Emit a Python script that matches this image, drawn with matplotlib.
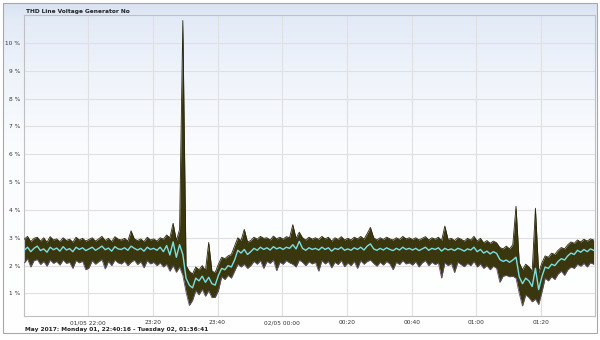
import matplotlib
matplotlib.use("Agg")
import matplotlib.pyplot as plt
import numpy as np
import pandas as pd
from matplotlib.colors import LinearSegmentedColormap
from matplotlib.patches import Rectangle

start = "2017-05-01 22:40:16"
end = "2017-05-02 01:36:41"

# THD samples, one per minute (percent)
avg = [2.55, 2.66, 2.50, 2.62, 2.70, 2.54, 2.60, 2.48, 2.66, 2.57,
       2.63, 2.52, 2.68, 2.56, 2.61, 2.50, 2.66, 2.58, 2.64, 2.54,
       2.60, 2.66, 2.55, 2.62, 2.70, 2.57, 2.63, 2.52, 2.68, 2.60,
       2.58, 2.64, 2.55, 2.70, 2.62, 2.56, 2.62, 2.52, 2.66, 2.58,
       2.62, 2.55, 2.66, 2.50, 2.72, 2.38, 2.85, 2.30, 2.75, 2.40,
       1.55, 1.30, 1.20, 1.55, 1.45, 1.62, 1.40, 1.58, 1.35, 1.30,
       1.65, 1.90, 1.85, 2.00, 1.95, 2.20, 2.55, 2.45, 2.58, 2.40,
       2.50, 2.62, 2.55, 2.66, 2.58, 2.64, 2.56, 2.68, 2.60, 2.65,
       2.58, 2.66, 2.62, 2.75, 2.60, 2.87, 2.62, 2.55, 2.64, 2.58,
       2.62, 2.56, 2.66, 2.58, 2.64, 2.52, 2.62, 2.58, 2.66, 2.55,
       2.60, 2.55, 2.64, 2.58, 2.66, 2.56, 2.70, 2.78, 2.60, 2.55,
       2.62, 2.56, 2.64, 2.58, 2.54, 2.62, 2.56, 2.66, 2.58, 2.62,
       2.56, 2.62, 2.54, 2.60, 2.66, 2.55, 2.62, 2.58, 2.64, 2.52,
       2.62, 2.56, 2.60, 2.54, 2.62, 2.58, 2.52, 2.60, 2.56, 2.66,
       2.50, 2.58, 2.45, 2.52, 2.42, 2.50, 2.44, 2.22, 2.15, 2.20,
       2.12, 2.20, 2.30, 1.60, 1.35, 1.55, 1.45, 1.25, 1.90, 1.14,
       1.60, 1.95, 1.90, 2.05, 2.00, 2.15, 2.25, 2.20, 2.35, 2.45,
       2.40, 2.55, 2.48, 2.58, 2.50, 2.60, 2.55]

high = [2.95, 3.05, 2.86, 2.98, 3.02, 2.88, 3.00, 2.84, 3.04, 2.92,
        2.96, 2.86, 3.00, 2.90, 2.95, 2.84, 3.02, 2.92, 2.98, 2.88,
        2.94, 3.00, 2.88, 2.96, 3.05, 2.90, 2.98, 2.86, 3.04, 2.95,
        2.92, 2.98, 2.88, 3.25, 2.96, 2.90, 2.96, 2.86, 3.02, 2.92,
        2.96, 2.88, 3.00, 2.95, 3.10, 3.00, 3.52, 2.90, 3.30, 10.80,
        2.00, 1.80, 1.70, 1.95, 1.85, 2.00, 1.82, 2.83, 1.80, 1.75,
        2.05, 2.30, 2.25, 2.35, 2.40, 2.70, 3.00, 2.90, 3.30, 2.85,
        2.90, 3.02, 2.95, 3.05, 2.98, 3.00, 2.92, 3.06, 2.96, 3.02,
        2.95, 3.04, 3.00, 3.47, 2.98, 3.20, 3.00, 2.92, 3.02, 2.95,
        3.00, 2.94, 3.05, 2.96, 3.02, 2.88, 3.00, 2.94, 3.04, 2.92,
        2.98, 2.92, 3.02, 2.96, 3.05, 2.95, 3.15, 3.37, 3.00, 2.92,
        3.00, 2.94, 3.02, 2.96, 2.92, 3.00, 2.94, 3.05, 2.96, 3.00,
        2.94, 3.00, 2.92, 2.98, 3.04, 2.92, 3.00, 2.95, 3.02, 2.90,
        3.42, 2.94, 2.98, 2.90, 3.00, 2.95, 2.88, 2.98, 2.92, 3.05,
        2.88, 2.98, 2.82, 2.90, 2.80, 2.88, 2.82, 2.65, 2.60, 2.70,
        2.60, 2.75, 4.13, 2.10, 1.85, 2.05, 1.95, 1.80, 4.06, 1.75,
        2.10, 2.35, 2.30, 2.45, 2.40, 2.55, 2.65, 2.60, 2.75, 2.85,
        2.80, 2.92, 2.85, 2.95, 2.88, 2.96, 2.92]

low = [2.10, 2.24, 1.95, 2.18, 2.22, 2.04, 2.15, 1.98, 2.20, 2.08,
       2.15, 2.02, 2.20, 2.08, 2.12, 1.90, 2.18, 2.10, 2.16, 1.85,
       1.92, 2.18, 2.05, 2.14, 2.22, 1.88, 2.15, 2.00, 2.20, 2.10,
       2.06, 2.16, 2.00, 2.12, 2.20, 2.04, 2.14, 1.92, 2.18, 2.06,
       2.12, 2.00, 2.10, 1.95, 2.05, 1.80, 2.00, 1.76, 1.95, 1.65,
       1.05, 0.57, 0.75, 1.10, 0.95, 1.15, 0.90, 1.10, 0.85, 0.86,
       1.10, 1.60, 1.50, 1.65, 1.55, 1.80, 2.05, 1.95, 2.05, 1.90,
       2.00, 2.15, 2.05, 2.18, 1.90, 2.15, 2.08, 2.20, 1.82, 2.12,
       2.05, 2.18, 2.10, 2.05, 1.95, 2.20, 2.12, 2.00, 2.14, 2.06,
       2.12, 1.80, 2.18, 2.06, 2.15, 1.92, 2.12, 2.04, 2.18, 1.96,
       2.10, 2.00, 2.15, 1.90, 2.18, 2.05, 2.15, 2.20, 2.08, 1.98,
       2.12, 2.02, 2.15, 2.06, 1.85, 2.12, 2.04, 2.18, 2.06, 2.10,
       2.02, 2.14, 1.95, 2.10, 2.18, 2.00, 2.12, 2.04, 2.10, 1.55,
       2.10, 2.00, 2.08, 1.75, 2.12, 2.04, 1.96, 2.08, 2.00, 2.15,
       1.95, 2.06, 1.90, 2.00, 1.85, 1.98, 1.90, 1.40, 1.62, 1.65,
       1.60, 1.62, 1.55, 1.00, 0.55, 0.95, 0.85, 0.70, 0.80, 0.60,
       1.05, 1.55, 1.45, 1.60, 1.50, 1.70, 1.80, 1.65, 1.85, 1.95,
       1.90, 2.05, 1.98, 2.08, 1.95, 2.10, 2.05]

tick_times = ["2017-05-01 23:00", "2017-05-01 23:20", "2017-05-01 23:40",
              "2017-05-02 00:00", "2017-05-02 00:20", "2017-05-02 00:40",
              "2017-05-02 01:00", "2017-05-02 01:20"]
tick_labels = ["01/05 22:00", "23:20", "23:40", "02/05 00:00",
               "00:20", "00:40", "01:00", "01:20"]
y_ticks = [1, 2, 3, 4, 5, 6, 7, 8, 9, 10]

title = "THD Line Voltage Generator No"
footer = "May 2017: Monday 01, 22:40:16 - Tuesday 02, 01:36:41"

times = pd.date_range(start, periods=len(avg), freq="1min")

fig = plt.figure(figsize=(6, 3.4), dpi=100)

# panel background, light blue at the top fading to white
bg = fig.add_axes([0, 0, 1, 1], zorder=-10)
bg.set_xlim(0, 1)
bg.set_ylim(0, 1)
bg.axis("off")
grad = np.linspace(0, 1, 256).reshape(-1, 1)
cmap = LinearSegmentedColormap.from_list(
    "bg", [(0.0, "#d9e3f3"), (0.05, "#e4ebf7"), (0.2, "#eef3fa"),
           (0.45, "#fbfcfe"), (1.0, "#ffffff")])
bg.imshow(grad, aspect="auto", cmap=cmap, extent=[3/600, 597/600, 7/340, 337/340])
bg.add_patch(Rectangle((3/600, 7/340), 594/600, 330/340, fill=False,
                       edgecolor="#a8a8a8", lw=0.8))

ax = fig.add_axes([24.3/600, 1 - 316/340, (595 - 24.3)/600, (316 - 15)/340])
ax.patch.set_alpha(0)

ax.fill_between(times, low, high, color="#3a370f", lw=0, zorder=2)
ax.plot(times, high, color="#28260f", lw=0.6, zorder=3)
ax.plot(times, low, color="#5e5070", lw=0.6, zorder=3)
ax.plot(times, avg, color="#7adfe0", lw=1.0, zorder=4)

ax.set_xlim(pd.Timestamp(start), pd.Timestamp(end))
ax.set_ylim(0.19, 11.0)
ax.set_xticks(pd.to_datetime(tick_times))
ax.set_xticklabels(tick_labels)
ax.set_yticks(y_ticks)
ax.set_yticklabels(["%d %%" % v for v in y_ticks])
ax.tick_params(length=0, labelsize=4.2, colors="#333333", pad=3)
ax.grid(color="#e0e0e0", lw=0.8, zorder=0)
for s in ax.spines.values():
    s.set_color("#c0c0c0")
    s.set_linewidth(0.8)

fig.text(26/600, 1 - 11/340, title, fontsize=4.2, fontweight="bold",
         color="#222222", va="center", ha="left")
fig.text(25/600, 1 - 329/340, footer, fontsize=4.2, fontweight="bold",
         color="#222222", va="center", ha="left")

fig.savefig("out.png", dpi=100)
